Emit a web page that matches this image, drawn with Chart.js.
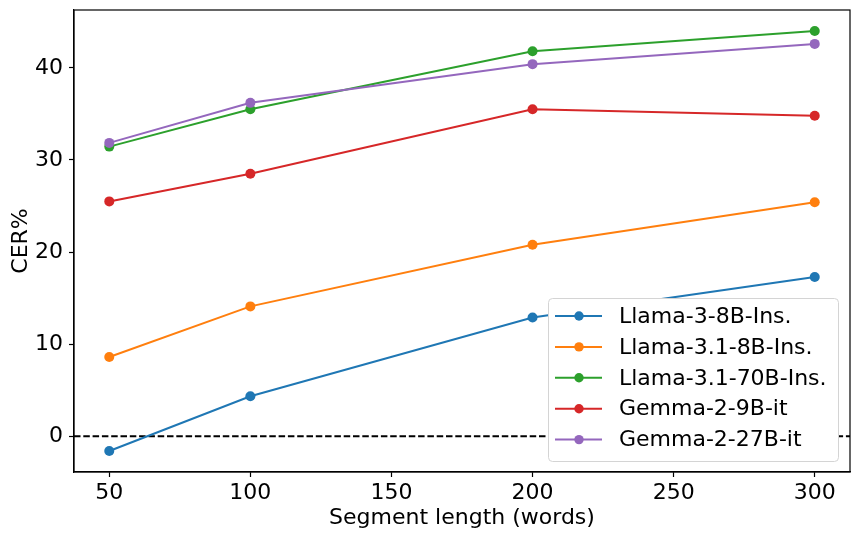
<!DOCTYPE html>
<html>
<head>
<meta charset="utf-8">
<script src="https://cdn.jsdelivr.net/npm/chart.js@4"></script>
<style>
html,body{margin:0;padding:0;background:#fff;}
#wrap{width:858px;height:537px;position:relative;}
</style>
</head>
<body>
<div id="wrap"><canvas id="c" width="858" height="537"></canvas></div>
<script>
const segmentLengths = [50, 100, 200, 300];
const seriesNames = ["Llama-3-8B-Ins.", "Llama-3.1-8B-Ins.", "Llama-3.1-70B-Ins.", "Gemma-2-9B-it", "Gemma-2-27B-it"];
const llama3_8b = [-1.6, 4.35, 12.9, 17.3];
const llama31_8b = [8.6, 14.1, 20.8, 25.4];
const llama31_70b = [31.45, 35.5, 41.8, 44.0];
const gemma2_9b = [25.5, 28.5, 35.5, 34.8];
const gemma2_27b = [31.85, 36.2, 40.4, 42.6];
const xTicks = [50, 100, 150, 200, 250, 300];
const yTicks = [0, 10, 20, 30, 40];
const baseline = 0;
const colors = ["#1f77b4", "#ff7f0e", "#2ca02c", "#d62728", "#9467bd"];
const allSeries = [llama3_8b, llama31_8b, llama31_70b, gemma2_9b, gemma2_27b];

const FONT = "DejaVu Sans";
const FS = 22;
Chart.defaults.font.family = FONT;
Chart.defaults.color = "#000";

// matplotlib-like 5% margins
const xMin0 = Math.min(...segmentLengths), xMax0 = Math.max(...segmentLengths);
const allY = allSeries.flat();
const yMin0 = Math.min(...allY), yMax0 = Math.max(...allY);
const xm = (xMax0 - xMin0) * 0.05, ym = (yMax0 - yMin0) * 0.05;

const datasets = allSeries.map((vals, i) => ({
  label: seriesNames[i],
  data: segmentLengths.map((x, j) => ({x: x, y: vals[j]})),
  borderColor: colors[i],
  backgroundColor: colors[i],
  borderWidth: 2,
  pointRadius: 5,
  pointHoverRadius: 5,
  pointBorderWidth: 0,
  pointBackgroundColor: colors[i],
  tension: 0,
  order: allSeries.length - 1 - i
}));

const extras = {
  id: 'extras',
  beforeDatasetsDraw(chart) {
    const {ctx, chartArea: a, scales} = chart;
    const y0 = scales.y.getPixelForValue(baseline);
    ctx.save();
    ctx.beginPath();
    ctx.rect(a.left, a.top, a.right - a.left, a.bottom - a.top);
    ctx.clip();
    ctx.strokeStyle = "#000";
    ctx.lineWidth = 2;
    ctx.setLineDash([6.5, 2.8]);
    ctx.beginPath();
    ctx.moveTo(a.left, y0);
    ctx.lineTo(a.right, y0);
    ctx.stroke();
    ctx.restore();
  },
  afterDraw(chart) {
    const {ctx, chartArea: a} = chart;
    ctx.save();
    ctx.strokeStyle = "#000";
    ctx.lineWidth = 1.2;
    ctx.strokeRect(a.left, a.top, a.right - a.left, a.bottom - a.top);
    // legend
    const bx = 548.5, by = 298.5, bw = 290, bh = 163, r = 4;
    ctx.beginPath();
    ctx.moveTo(bx + r, by);
    ctx.arcTo(bx + bw, by, bx + bw, by + bh, r);
    ctx.arcTo(bx + bw, by + bh, bx, by + bh, r);
    ctx.arcTo(bx, by + bh, bx, by, r);
    ctx.arcTo(bx, by, bx + bw, by, r);
    ctx.closePath();
    ctx.fillStyle = "#ffffff";
    ctx.fill();
    ctx.strokeStyle = "#d4d4d4";
    ctx.lineWidth = 1;
    ctx.stroke();
    ctx.font = FS + "px '" + FONT + "'";
    ctx.textBaseline = "middle";
    chart.data.datasets.forEach((ds, i) => {
      const yy = 316 + i * 30.9;
      ctx.strokeStyle = ds.borderColor;
      ctx.lineWidth = 2;
      ctx.setLineDash([]);
      ctx.beginPath();
      ctx.moveTo(555, yy);
      ctx.lineTo(602, yy);
      ctx.stroke();
      ctx.fillStyle = ds.borderColor;
      ctx.beginPath();
      ctx.arc(579, yy, 4.7, 0, Math.PI * 2);
      ctx.fill();
      ctx.fillStyle = "#000";
      ctx.fillText(ds.label, 619, yy + 1);
    });
    ctx.restore();
  }
};

new Chart(document.getElementById('c'), {
  type: 'line',
  data: { datasets },
  options: {
    responsive: false,
    animation: false,
    devicePixelRatio: 1,
    layout: { autoPadding: false, padding: { left: 0, top: 10, right: 8, bottom: 0 } },
    plugins: { legend: { display: false }, tooltip: { enabled: false } },
    scales: {
      x: {
        type: 'linear',
        min: xMin0 - xm,
        max: xMax0 + xm,
        afterBuildTicks(s) { s.ticks = xTicks.map(v => ({value: v})); },
        afterFit(s) { s.height = 65; s.paddingLeft = 0; s.paddingRight = 0; },
        ticks: { font: { size: FS, family: FONT }, color: "#000", padding: 3, maxRotation: 0, autoSkip: false },
        grid: { drawOnChartArea: false, drawTicks: true, tickLength: 5, tickColor: "#000", tickWidth: 1.2 },
        border: { display: true, color: "#000", width: 1.2 },
        title: { display: true, text: "Segment length (words)", font: { size: FS, family: FONT }, color: "#000", padding: { top: 0, bottom: 6 } }
      },
      y: {
        type: 'linear',
        min: yMin0 - ym,
        max: yMax0 + ym,
        afterBuildTicks(s) { s.ticks = yTicks.map(v => ({value: v})); },
        afterFit(s) { s.width = 74; s.paddingTop = 0; s.paddingBottom = 0; },
        ticks: { font: { size: FS, family: FONT }, color: "#000", padding: 6, autoSkip: false },
        grid: { drawOnChartArea: false, drawTicks: true, tickLength: 5, tickColor: "#000", tickWidth: 1.2 },
        border: { display: true, color: "#000", width: 1.2 },
        title: { display: true, text: "CER%", font: { size: FS, family: FONT }, color: "#000", padding: { top: 8, bottom: 0 } }
      }
    }
  },
  plugins: [extras]
});
</script>
</body>
</html>
